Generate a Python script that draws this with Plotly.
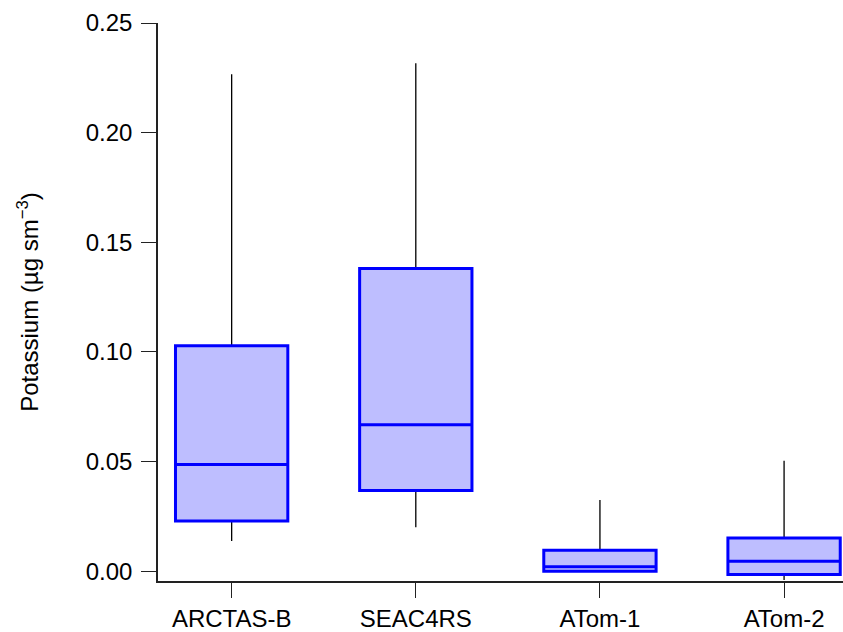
import plotly.graph_objects as go

categories = ["ARCTAS-B", "SEAC4RS", "ATom-1", "ATom-2"]
lower = [0.0138, 0.0200, 0.0000, -0.0040]
q1 = [0.0229, 0.0368, 0.0000, -0.0015]
median = [0.0486, 0.0668, 0.0020, 0.0045]
q3 = [0.1028, 0.1380, 0.0095, 0.0151]
upper = [0.2266, 0.2316, 0.0325, 0.0504]

y_ticks = [0.00, 0.05, 0.10, 0.15, 0.20, 0.25]
y_ticktext = ["0.00", "0.05", "0.10", "0.15", "0.20", "0.25"]

fig = go.Figure()

# whiskers (black)
fig.add_trace(go.Box(
    x=categories, q1=q1, median=median, q3=q3,
    lowerfence=lower, upperfence=upper,
    width=0.61, whiskerwidth=0,
    line=dict(color="black", width=1.3),
    fillcolor="rgba(0,0,0,0)",
    boxpoints=False, hoverinfo="skip", showlegend=False,
))
# boxes (blue)
fig.add_trace(go.Box(
    x=categories, q1=q1, median=median, q3=q3,
    lowerfence=q1, upperfence=q3,
    width=0.61, whiskerwidth=0,
    line=dict(color="#0000FF", width=3),
    fillcolor="#BEBEFF",
    boxpoints=False, showlegend=False,
))

font_family = "Liberation Sans, Arial, sans-serif"
fs = 24
fig.update_layout(
    width=843, height=632,
    margin=dict(l=158, r=0, t=23, b=49),
    plot_bgcolor="white", paper_bgcolor="white",
    boxmode="overlay",
    font=dict(family=font_family, size=fs, color="black"),
    xaxis=dict(
        type="category", range=[-0.40, 3.32],
        showline=True, linecolor="#222", linewidth=1.5,
        ticks="outside", ticklen=15, tickwidth=1.3, tickcolor="#222",
        showgrid=False, zeroline=False,
        tickfont=dict(size=fs, family=font_family, color="black"),
    ),
    yaxis=dict(
        range=[-0.0045, 0.25],
        tickvals=y_ticks, ticktext=y_ticktext,
        showline=True, linecolor="#222", linewidth=1.5,
        ticks="outside", ticklen=15, tickwidth=1.3, tickcolor="#222",
        ticklabelstandoff=4,
        showgrid=False, zeroline=False,
        tickfont=dict(size=fs, family=font_family, color="black"),
        title=dict(text="Potassium (µg sm<sup>−3</sup>)", standoff=40,
                   font=dict(size=fs, family=font_family, color="black")),
    ),
)

fig.write_html("out.html")
